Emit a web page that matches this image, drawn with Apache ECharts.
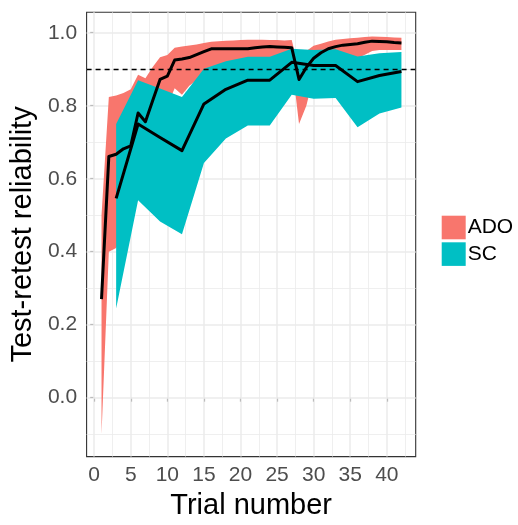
<!DOCTYPE html>
<html>
<head>
<meta charset="utf-8">
<script src="https://cdn.jsdelivr.net/npm/echarts@6/dist/echarts.min.js"></script>
<style>
  html, body { margin: 0; padding: 0; background: #fff; }
  #chart { width: 518px; height: 525px; }
</style>
</head>
<body>
<div id="chart"></div>
<script>
// ADO: one estimate per trial
var adoTrials = [1,2,3,4,5,6,7,8,9,10,11,12,13,14,15,16,17,18,19,20,21,22,23,24,25,26,27,28,29,30,31,32,33,34,35,36,37,38,39,40,41,42];
var adoMean  = [0.27,0.661,0.667,0.682,0.69,0.78,0.756,0.814,0.872,0.881,0.925,0.928,0.932,0.94,0.948,0.956,0.956,0.956,0.956,0.956,0.956,0.959,0.961,0.962,0.961,0.96,0.959,0.872,0.905,0.93,0.945,0.956,0.962,0.966,0.968,0.97,0.974,0.977,0.976,0.975,0.973,0.972];
var adoLower = [-0.1,0.40,0.41,0.45,0.50,0.58,0.60,0.68,0.74,0.80,0.848,0.83,0.855,0.87,0.88,0.90,0.90,0.905,0.91,0.91,0.915,0.915,0.92,0.92,0.92,0.92,0.92,0.75,0.80,0.88,0.905,0.92,0.93,0.93,0.93,0.93,0.94,0.95,0.953,0.953,0.953,0.953];
var adoUpper = [0.50,0.824,0.828,0.835,0.845,0.885,0.875,0.906,0.933,0.939,0.959,0.962,0.965,0.968,0.972,0.975,0.977,0.978,0.979,0.98,0.981,0.981,0.981,0.98,0.98,0.979,0.98,0.90,0.95,0.964,0.97,0.976,0.981,0.983,0.985,0.986,0.988,0.99,0.989,0.988,0.987,0.986];

// SC: every third trial
var scTrials = [3,6,9,12,15,18,21,24,27,30,33,36,39,42];
var scMean  = [0.546,0.75,0.713,0.677,0.805,0.845,0.870,0.870,0.919,0.91,0.91,0.866,0.883,0.894];
var scLower = [0.244,0.541,0.483,0.448,0.643,0.71,0.746,0.746,0.830,0.819,0.821,0.741,0.779,0.795];
var scUpper = [0.75,0.870,0.847,0.824,0.901,0.922,0.934,0.934,0.956,0.953,0.955,0.935,0.944,0.947];

var refLine = 0.9;

// ticks / grid
var xMajor = [0,5,10,15,20,25,30,35,40];
var xMinor = [2.5,7.5,12.5,17.5,22.5,27.5,32.5,37.5,42.5];
var yMajor = [0,0.2,0.4,0.6,0.8,1.0];
var yMinor = [-0.1,0.1,0.3,0.5,0.7,0.9];

var FONT = "'Liberation Sans', Arial, sans-serif";
var ADO_COL = '#F8766D';
var SC_COL = '#00BFC4';

function zip(xs, ys) {
  return xs.map(function (x, i) { return [x, ys[i]]; });
}

// filled band between lower and upper
function ribbon(name, color, xs, lo, hi, z) {
  return {
    type: 'custom',
    name: name,
    z: z,
    clip: true,
    itemStyle: { color: color },
    data: [[xs[0], lo[0]]],
    renderItem: function (params, api) {
      var pts = [];
      for (var i = 0; i < xs.length; i++) pts.push(api.coord([xs[i], hi[i]]));
      for (var j = xs.length - 1; j >= 0; j--) pts.push(api.coord([xs[j], lo[j]]));
      return { type: 'polygon', shape: { points: pts }, style: { fill: color } };
    }
  };
}

function meanLine(data) {
  return {
    type: 'line',
    data: data,
    symbol: 'none',
    z: 6,
    lineStyle: { color: '#000', width: 3, join: 'round' },
    itemStyle: { color: '#000' }
  };
}

function gridLines(vals, axis, width) {
  return vals.map(function (v) {
    var d = {}; d[axis] = v;
    d.lineStyle = { color: '#EBEBEB', width: width, type: 'solid' };
    return d;
  });
}

var myChart = echarts.init(document.getElementById('chart'));
var option = {
  animation: false,
  backgroundColor: '#fff',
  textStyle: { fontFamily: FONT },
  grid: {
    left: 81.5, right: 102.3, top: 12.3, bottom: 57.3,
    show: true, borderColor: '#333', borderWidth: 1.1, backgroundColor: 'transparent'
  },
  legend: {
    orient: 'vertical',
    left: 441.7, top: 215.7,
    padding: 0,
    itemWidth: 24, itemHeight: 23.6, itemGap: 3,
    icon: 'rect',
    data: ['ADO', 'SC'],
    textStyle: { fontSize: 21, color: '#000', fontFamily: FONT, padding: [2, 0, 0, -3] }
  },
  xAxis: {
    type: 'value',
    min: -1.04, max: 43.95,
    name: 'Trial number',
    nameLocation: 'middle',
    nameGap: 29,
    nameTextStyle: { fontSize: 29, color: '#000', fontFamily: FONT },
    axisLine: { show: false },
    splitLine: { show: false },
    axisTick: { show: true, customValues: xMajor, length: 4, lineStyle: { color: '#333', width: 1.1 } },
    axisLabel: { customValues: xMajor, fontSize: 21, color: '#4D4D4D', margin: 8.5, fontFamily: FONT }
  },
  yAxis: {
    type: 'value',
    min: -0.1615, max: 1.056,
    name: 'Test-retest reliability',
    nameLocation: 'middle',
    nameGap: 44,
    nameRotate: 90,
    nameTextStyle: { fontSize: 29, color: '#000', fontFamily: FONT },
    axisLine: { show: false },
    splitLine: { show: false },
    axisTick: { show: true, customValues: yMajor, length: 4, lineStyle: { color: '#333', width: 1.1 } },
    axisLabel: {
      customValues: yMajor, fontSize: 21, color: '#4D4D4D', margin: 9.5, fontFamily: FONT,
      formatter: function (v) { return v.toFixed(1); }
    }
  },
  series: [
    {
      // background grid, kept under the ribbons
      type: 'line', data: [], z: 1, silent: true,
      markLine: {
        z: 1,
        silent: true, symbol: 'none', label: { show: false }, animation: false,
        data: gridLines(xMinor, 'xAxis', 0.8).concat(gridLines(yMinor, 'yAxis', 0.8))
          .concat(gridLines(xMajor, 'xAxis', 1.5)).concat(gridLines(yMajor, 'yAxis', 1.5))
      }
    },
    ribbon('ADO', ADO_COL, adoTrials, adoLower, adoUpper, 3),
    ribbon('SC', SC_COL, scTrials, scLower, scUpper, 4),
    meanLine(zip(adoTrials, adoMean)),
    meanLine(zip(scTrials, scMean)),
    {
      type: 'line', data: [], z: 7, silent: true,
      markLine: {
        z: 7,
        silent: true, symbol: 'none', label: { show: false }, animation: false,
        lineStyle: { color: '#000', width: 1.3, type: [5, 4] },
        data: [{ yAxis: refLine }]
      }
    }
  ]
};
myChart.setOption(option);
</script>
</body>
</html>
